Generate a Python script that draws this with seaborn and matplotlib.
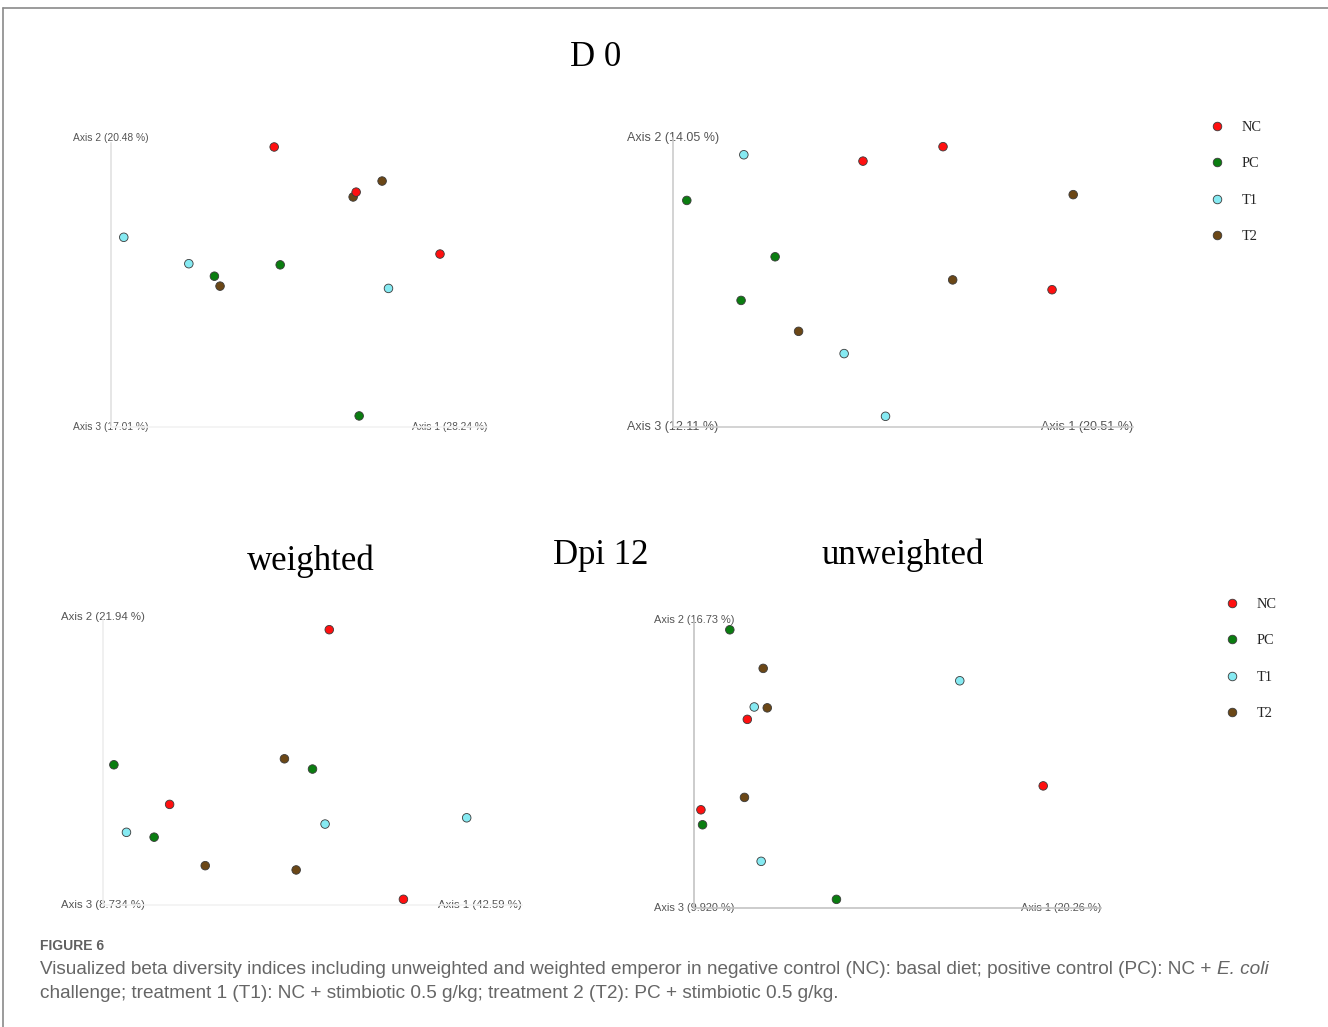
import matplotlib
matplotlib.use("Agg")
import matplotlib.pyplot as plt
import pandas as pd
import seaborn as sns
from matplotlib import font_manager
from matplotlib.lines import Line2D

# --- data (axis scores rescaled to 0-100 along each drawn axis) ---
groups = ["NC", "PC", "T1", "T2"]
palette = {"NC": "#ff1010", "PC": "#0a7d10", "T1": "#86eaf2", "T2": "#6b4716"}

d0_w_group = ["PC", "T1", "T2", "T2", "T1", "PC", "T2", "NC", "NC", "NC", "T1", "PC"]
d0_w_x = [27.5, 20.7, 29.0, 64.4, 3.4, 45.0, 72.1, 43.4, 65.2, 87.5, 73.8, 66.0]
d0_w_y = [53.1, 57.5, 49.6, 81.0, 66.8, 57.1, 86.6, 98.6, 82.7, 60.9, 48.8, 3.9]

d0_u_group = ["T1", "NC", "NC", "T2", "PC", "PC", "T2", "NC", "PC", "T2", "T1", "T1"]
d0_u_x = [15.4, 41.3, 58.7, 87.0, 3.0, 22.2, 60.8, 82.4, 14.8, 27.3, 37.2, 46.2]
d0_u_y = [94.2, 92.0, 97.0, 80.4, 78.4, 58.9, 50.9, 47.5, 43.8, 33.1, 25.4, 3.7]

d12_w_group = ["NC", "T2", "PC", "PC", "NC", "T1", "T1", "T1", "PC", "T2", "T2", "NC"]
d12_w_x = [54.0, 43.3, 2.6, 50.0, 15.9, 86.8, 53.0, 5.6, 12.2, 24.4, 46.1, 71.7]
d12_w_y = [96.6, 51.3, 49.2, 47.7, 35.3, 30.6, 28.4, 25.5, 23.8, 13.8, 12.3, 2.0]

d12_u_group = ["PC", "T2", "T1", "T1", "T2", "NC", "NC", "T2", "NC", "PC", "T1", "PC"]
d12_u_x = [8.8, 17.0, 65.3, 14.8, 18.0, 13.1, 85.8, 12.4, 1.7, 2.1, 16.5, 35.0]
d12_u_y = [96.6, 83.2, 78.9, 69.8, 69.5, 65.5, 42.4, 38.4, 34.1, 28.9, 16.2, 3.0]

axis_labels = {
    "d0_w": ("Axis 1 (28.24 %)", "Axis 2 (20.48 %)", "Axis 3 (17.01 %)"),
    "d0_u": ("Axis 1 (20.51 %)", "Axis 2 (14.05 %)", "Axis 3 (12.11 %)"),
    "d12_w": ("Axis 1 (42.59 %)", "Axis 2 (21.94 %)", "Axis 3 (8.734 %)"),
    "d12_u": ("Axis 1 (20.26 %)", "Axis 2 (16.73 %)", "Axis 3 (9.920 %)"),
}

W, H = 1328, 1027
sns.set_style("white")
plt.rcParams["font.family"] = ["Liberation Sans", "DejaVu Sans"]

fig = plt.figure(figsize=(W / 100, H / 100), dpi=100)


def px_axes(x0, x1, y_top, y_bot):
    return fig.add_axes([x0 / W, 1 - y_bot / H, (x1 - x0) / W, (y_bot - y_top) / H])


def draw_panel(ax, xs, ys, grp, labels, spine_left, spine_bottom, label_size, legend):
    df = pd.DataFrame({"x": xs, "y": ys, "group": grp})
    sns.scatterplot(
        data=df, x="x", y="y", hue="group", hue_order=groups, palette=palette,
        s=38, edgecolor="#3a3a3a", linewidth=0.6, ax=ax, legend=legend, clip_on=False, zorder=3,
    )
    ax.set_xlim(0, 100)
    ax.set_ylim(0, 100)
    ax.set_xticks([])
    ax.set_yticks([])
    ax.set_xlabel("")
    ax.set_ylabel("")
    ax.patch.set_alpha(0)
    for side in ["top", "right"]:
        ax.spines[side].set_visible(False)
    ax.spines["left"].set_color(spine_left)
    ax.spines["bottom"].set_color(spine_bottom)
    ax.spines["left"].set_linewidth(1.2)
    ax.spines["bottom"].set_linewidth(1.2)
    a1, a2, a3 = labels
    kw = dict(transform=ax.transAxes, fontsize=label_size, color="#555555", va="center", zorder=2)
    ax.text(0, 1.0, a2, ha="center", **kw)
    ax.text(0, 0, a3, ha="center", **kw)
    ax.text(1, 0, a1, ha="right", **kw)


ax1 = px_axes(111, 487, 143, 427)
draw_panel(ax1, d0_w_x, d0_w_y, d0_w_group, axis_labels["d0_w"], "#e2e2e2", "#f2f2f2", 7.4, False)
ax1.texts[0].set_y(1.018)

ax2 = px_axes(673, 1133, 138, 427)
draw_panel(ax2, d0_u_x, d0_u_y, d0_u_group, axis_labels["d0_u"], "#cccccc", "#cccccc", 9.0, True)

ax3 = px_axes(103, 522, 620, 905)
draw_panel(ax3, d12_w_x, d12_w_y, d12_w_group, axis_labels["d12_w"], "#eeeeee", "#f2f2f2", 8.2, False)
ax3.texts[0].set_y(1.01)

ax4 = px_axes(694, 1101, 620, 908)
draw_panel(ax4, d12_u_x, d12_u_y, d12_u_group, axis_labels["d12_u"], "#c4c4c4", "#c4c4c4", 7.9, True)

serif = ["Liberation Serif", "DejaVu Serif"]
for ax, anchor in [(ax2, (1210 / W, 1 - 121 / H)), (ax4, (1225 / W, 1 - 598 / H))]:
    sns.move_legend(
        ax, "upper left", bbox_to_anchor=anchor, bbox_transform=fig.transFigure,
        frameon=False, title=None, handlelength=1.0, handletextpad=1.2,
        labelspacing=1.6, borderpad=0, borderaxespad=0,
        prop=font_manager.FontProperties(family=serif, size=10.4),
    )

# titles
title_kw = dict(family=serif, fontsize=25, ha="center", va="center", color="black")
fig.text(596 / W, 1 - 57 / H, "D 0", **title_kw)
fig.text(311 / W, 1 - 561 / H, "weighted", **title_kw)
fig.text(601 / W, 1 - 555 / H, "Dpi 12", **title_kw)
fig.text(903 / W, 1 - 555 / H, "unweighted", **title_kw)

# page frame
fig.add_artist(Line2D([3 / W, 1], [1 - 8 / H, 1 - 8 / H], color="#8a8a8a", lw=1.2, transform=fig.transFigure))
fig.add_artist(Line2D([3 / W, 3 / W], [0, 1 - 8 / H], color="#8a8a8a", lw=1.2, transform=fig.transFigure))

# caption
cap_font = ["Liberation Sans", "DejaVu Sans"]
cap_size = 13.7
fig.text(40 / W, 1 - 946 / H, "FIGURE 6", family=cap_font, fontsize=10, weight="bold",
         color="#606060", va="center")
line1 = ("Visualized beta diversity indices including unweighted and weighted emperor in negative "
         "control (NC): basal diet; positive control (PC): NC + ")
t1 = fig.text(40 / W, 1 - 969 / H, line1, family=cap_font, fontsize=cap_size, color="#666666", va="center")
fig.canvas.draw()
bb = t1.get_window_extent()
fig.text(bb.x1 / W, 1 - 969 / H, "E. coli", family=cap_font, fontsize=cap_size, style="italic",
         color="#666666", va="center")
fig.text(40 / W, 1 - 993 / H,
         "challenge; treatment 1 (T1): NC + stimbiotic 0.5 g/kg; treatment 2 (T2): PC + stimbiotic 0.5 g/kg.",
         family=cap_font, fontsize=cap_size, color="#666666", va="center")

fig.savefig("out.png", dpi=100)
